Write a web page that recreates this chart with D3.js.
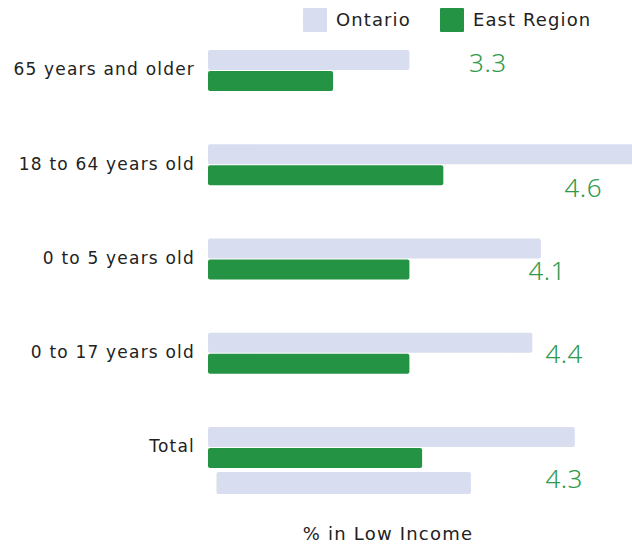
<!DOCTYPE html>
<html lang="en">
<head>
  <meta charset="UTF-8" />
  <title>% in Low Income</title>
  <script src="https://d3js.org/d3.v7.min.js"></script>
  <style>
    body { margin: 0; padding: 0; background: #fff; }
    svg { display: block; font-family: "DejaVu Sans", sans-serif; }
  </style>
</head>
<body>
<div id="chart"></div>
<script>
  // Data
  const categories = ["65 years and older", "18 to 64 years old", "0 to 5 years old", "0 to 17 years old", "Total"];
  const seriesNames = ["Ontario", "East Region"];
  const ontario = [9.5, 20.5, 15.7, 15.3, 17.3];
  const eastRegion = [5.9, 11.1, 9.5, 9.5, 10.1];
  const valueLabels = ["3.3", "4.6", "4.1", "4.4", "4.3"];
  // where each value label sits: x in value units, y shift from band centre
  const labelX = [13.2, 17.7, 16.0, 16.8, 16.8];
  const labelDy = [-8, 23, 12, 1, 31];
  // stray bar under Total: start / end in value units
  const extraBar = [0.4, 12.4];

  const width = 632, height = 546;
  const colors = { "Ontario": "#d8ddf0", "East Region": "#259344" };

  const svg = d3.select("#chart").append("svg")
    .attr("width", width)
    .attr("height", height);

  const x = d3.scaleLinear().domain([0, 20]).range([208, 632]);

  const y = d3.scaleBand()
    .domain(categories)
    .range([50, 468])
    .paddingInner(0.565)
    .paddingOuter(0);

  const ySub = d3.scaleBand()
    .domain(seriesNames)
    .range([0, y.bandwidth()])
    .paddingInner(0.05);

  const rows = categories.map((c, i) => ({
    cat: c, i,
    values: [
      { name: "Ontario", v: ontario[i] },
      { name: "East Region", v: eastRegion[i] }
    ]
  }));

  const chart = svg.append("g");

  const group = chart.selectAll(".row")
    .data(rows)
    .enter().append("g")
    .attr("class", "row")
    .attr("transform", d => `translate(0,${y(d.cat)})`);

  group.selectAll("rect")
    .data(d => d.values)
    .enter().append("rect")
    .attr("x", x(0))
    .attr("y", d => ySub(d.name))
    .attr("width", d => x(d.v) - x(0))
    .attr("height", ySub.bandwidth())
    .attr("rx", 2)
    .attr("fill", d => colors[d.name]);

  // stray light bar below Total
  chart.append("rect")
    .attr("x", x(extraBar[0]))
    .attr("y", y("Total") + y.bandwidth() + 4)
    .attr("width", x(extraBar[1]) - x(extraBar[0]))
    .attr("height", 22)
    .attr("rx", 2)
    .attr("fill", colors["Ontario"]);

  // Category labels
  chart.selectAll(".cat")
    .data(categories)
    .enter().append("text")
    .attr("class", "cat")
    .attr("x", 195)
    .attr("y", d => y(d) + y.bandwidth() / 2 - 1)
    .attr("dy", "0.35em")
    .attr("text-anchor", "end")
    .style("font-size", "17px")
    .style("letter-spacing", "1.2px")
    .style("fill", "#222")
    .text(d => d);

  // Value labels
  chart.selectAll(".val")
    .data(rows)
    .enter().append("text")
    .attr("class", "val")
    .attr("x", d => x(labelX[d.i]))
    .attr("y", d => y(d.cat) + y.bandwidth() / 2 + labelDy[d.i])
    .attr("dy", "0.35em")
    .attr("text-anchor", "middle")
    .style("font-family", "'Noto Sans', sans-serif")
    .style("font-size", "26px")
    .style("font-weight", 300)
    .style("letter-spacing", "0.5px")
    .style("fill", "#2f9a4c")
    .text(d => valueLabels[d.i]);

  // Axis title
  svg.append("text")
    .attr("x", 388)
    .attr("y", 540)
    .attr("text-anchor", "middle")
    .style("font-size", "18px")
    .style("letter-spacing", "1.2px")
    .style("fill", "#222")
    .text("% in Low Income");

  // Legend
  const legend = svg.append("g").attr("transform", "translate(303,8)");
  const legendOffsets = [0, 137];
  const item = legend.selectAll(".item")
    .data(seriesNames)
    .enter().append("g")
    .attr("class", "item")
    .attr("transform", (d, i) => `translate(${legendOffsets[i]},0)`);
  item.append("rect")
    .attr("width", 24)
    .attr("height", 24)
    .attr("rx", 1)
    .attr("fill", d => colors[d]);
  item.append("text")
    .attr("x", 33)
    .attr("y", 12)
    .attr("dy", "0.35em")
    .style("font-size", "18px")
    .style("letter-spacing", "1.1px")
    .style("fill", "#222")
    .text(d => d);
</script>
</body>
</html>
